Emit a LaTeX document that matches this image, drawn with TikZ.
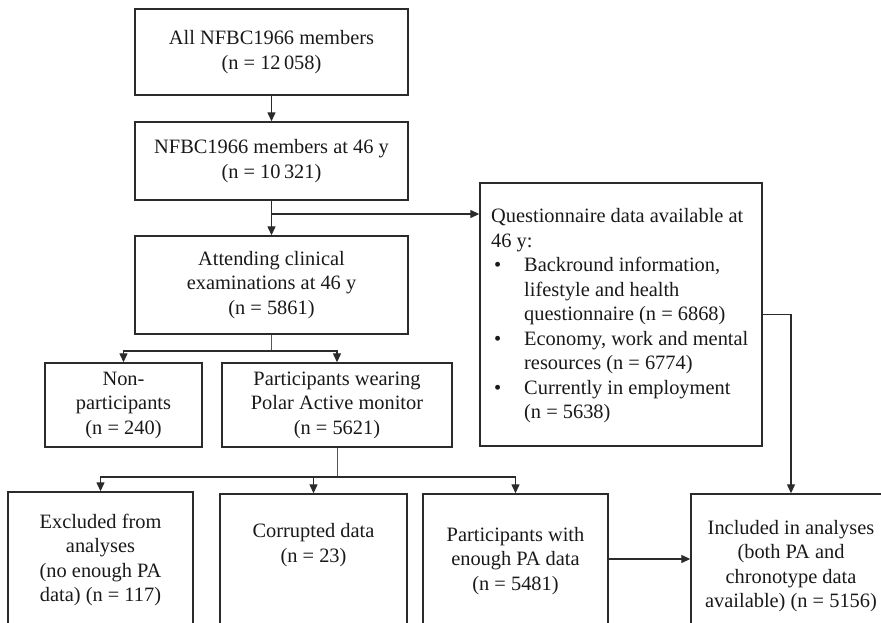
\documentclass[tikz,border=0pt]{standalone}
\usepackage{fontspec}
\setmainfont{Liberation Serif}
\usetikzlibrary{arrows.meta}
\definecolor{ln}{gray}{0.17}
\definecolor{tx}{gray}{0.1}
\begin{document}
\begin{tikzpicture}[x=1pt,y=-1pt,
 box/.style={draw=ln, line width=1.4pt, inner sep=0pt, align=center,
   font=\fontsize{20.4}{24.5}\selectfont, text=tx},
 txt/.style={align=center, font=\fontsize{20.4}{24.5}\selectfont, text=tx, inner sep=0pt},
 arr/.style={draw=ln, line width=1.3pt, -{Triangle[length=9pt,width=8pt]}},
 thinln/.style={draw=ln!80, line width=0.9pt}]
\useasboundingbox (0,0) rectangle (881,623);
\clip (0,0) rectangle (881,623);
% top column
\node[box, minimum width=273, minimum height=86] (b1) at (271.5,52)
  {All NFBC1966 members\\(n = 12\,058)};
\node[box, minimum width=273, minimum height=78] (b2) at (271.5,161)
  {NFBC1966 members at 46 y\\(n = 10\,321)};
\node[box, minimum width=273, minimum height=98] (b3) at (271.5,285)
  {Attending clinical\\examinations at 46 y\\(n = 5861)};
\node[box, minimum width=157, minimum height=84] (np) at (123.5,405)
  {Non-\\participants\\(n = 240)};
\node[box, minimum width=230, minimum height=84] (pw) at (337,405)
  {Participants wearing\\Polar Active monitor\\(n = 5621)};
% questionnaire
\node[box, minimum width=282, minimum height=263] (q) at (621,314.5) {};
\node[txt, align=left, anchor=west] (qt) at (491,316)
  {Questionnaire data available at\\46 y:\\
   \makebox[33pt][l]{\hspace{3pt}•}Backround information,\\
   \hspace*{33pt}lifestyle and health\\
   \hspace*{33pt}questionnaire (n = 6868)\\
   \makebox[33pt][l]{\hspace{3pt}•}Economy, work and mental\\
   \hspace*{33pt}resources (n = 6774)\\
   \makebox[33pt][l]{\hspace{3pt}•}Currently in employment\\
   \hspace*{33pt}(n = 5638)};
% bottom row
\node[box, minimum width=185, minimum height=148] (ex) at (100.5,566) {};
\node[box, minimum width=187, minimum height=146] (cd) at (313.5,567) {};
\node[box, minimum width=185, minimum height=146] (pe) at (515.5,567) {};
\node[box, minimum width=200, minimum height=146] (in) at (791,567) {};
\node[txt] (ext) at (100.5,560) {Excluded from\\analyses\\(no enough PA\\data) (n = 117)};
\node[txt] (cdt) at (313.5,545) {Corrupted data\\(n = 23)};
\node[txt] (pet) at (515.5,561) {Participants with\\enough PA data\\(n = 5481)};
\node[txt] (int) at (791,566) {Included in analyses\\(both PA and\\chronotype data\\available) (n = 5156)};
% connectors
\coordinate (j1) at (271.5,214);
\coordinate (j2) at (271.5,351);
\coordinate (j3) at (337,477);
\draw[arr] (b1) -- (b2);
\draw[arr] (b2) -- (b3);
\draw[arr] (j1) -- (j1 -| q.west);
\draw[thinln] (b3.south) -- (j2);
\draw[arr] (j2) -| (np.north);
\draw[arr] (j2) -| (pw.north);
\draw[thinln] (pw.south) -- (j3);
\draw[arr] (j3) -| (ex.north);
\draw[arr] (j3) -| (cd.north);
\draw[arr] (j3) -| (pe.north);
\draw[arr] (q.east) -| (in.north);
\draw[arr] ([yshift=8pt]pe.east) -- ([yshift=8pt]in.west);
\end{tikzpicture}
\end{document}
